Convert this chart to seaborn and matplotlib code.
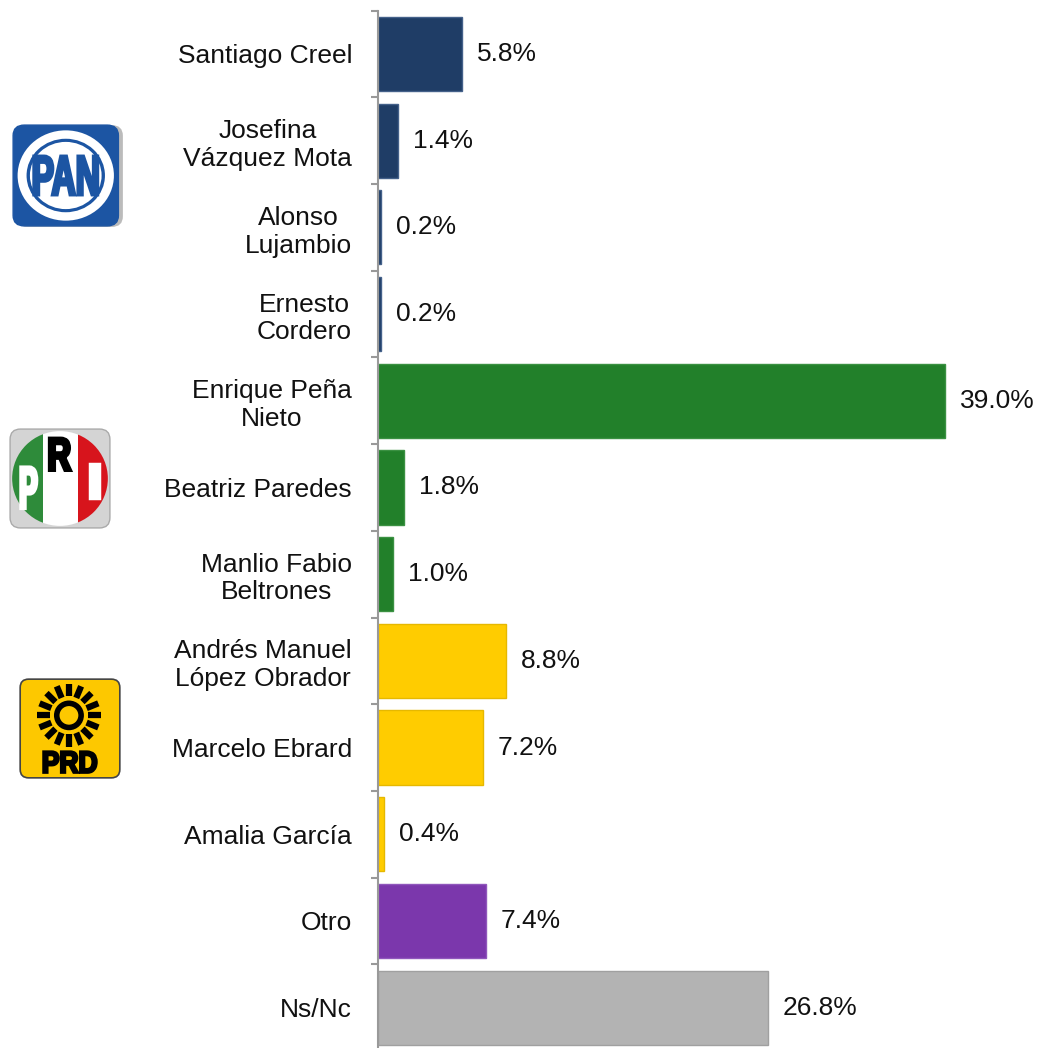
import numpy as np
import pandas as pd
import seaborn as sns
import matplotlib.pyplot as plt
from matplotlib.patches import FancyBboxPatch, Circle, Rectangle, PathPatch
from matplotlib.textpath import TextPath
from matplotlib.font_manager import FontProperties
from matplotlib.transforms import Affine2D

candidates = ["Santiago Creel", "Josefina\nVázquez Mota", "Alonso\nLujambio", "Ernesto\nCordero",
              "Enrique Peña\nNieto", "Beatriz Paredes", "Manlio Fabio\nBeltrones",
              "Andrés Manuel\nLópez Obrador", "Marcelo Ebrard", "Amalia García", "Otro", "Ns/Nc"]
values = [5.8, 1.4, 0.2, 0.2, 39.0, 1.8, 1.0, 8.8, 7.2, 0.4, 7.4, 26.8]
party = ["PAN", "PAN", "PAN", "PAN", "PRI", "PRI", "PRI", "PRD", "PRD", "PRD", "Otro", "Ns/Nc"]
party_colors = {"PAN": "#1F3D66", "PRI": "#22802A", "PRD": "#FFCC00", "Otro": "#7B37AC", "Ns/Nc": "#B3B3B3"}
edge_colors = {"PAN": "#44618A", "PRI": "#3B9142", "PRD": "#E6B800", "Otro": "#9057BC", "Ns/Nc": "#A0A0A0"}

df = pd.DataFrame({"candidato": candidates, "valor": values, "partido": party})

sns.set_theme(style="white")
plt.rcParams['font.family'] = ['Liberation Sans', 'DejaVu Sans']

W, H = 1038, 1048
step = 86.7
fig = plt.figure(figsize=(W / 100, H / 100), dpi=100)
ax = fig.add_axes([378 / W, 1 - (10.6 + 12 * step) / H, 1 - 378 / W, 12 * step / H])

sns.barplot(data=df, y="candidato", x="valor", hue="partido", palette=party_colors, saturation=1,
            orient="h", width=0.855, dodge=False, legend=False, ax=ax, linewidth=1)

for cont in ax.containers:
    for b in cont:
        i = int(round(b.get_y() + b.get_height() / 2))
        b.set_edgecolor(edge_colors[party[i]])
    ax.bar_label(cont, labels=[f"{v:.1f}%" if not np.isnan(v) else "" for v in cont.datavalues],
                 padding=10.8, fontsize=19, color="#111111")

ax.set_xlim(0, (W - 378) / 14.54)
ax.set_ylim(11.5, -0.5)
ax.set_xlabel("")
ax.set_ylabel("")
ax.set_xticks([])
ax.set_yticks(range(len(candidates)))
ax.set_yticklabels(candidates, fontsize=19, color="#111111", multialignment="center")
ax.set_yticks(np.arange(-0.5, 12, 1), minor=True)
ax.tick_params(axis="y", which="major", length=0, pad=18.7)
ax.tick_params(axis="y", which="minor", length=5, width=1.5, color="#999999", left=True, direction="out")
for s in ["top", "right", "bottom"]:
    ax.spines[s].set_visible(False)
ax.spines["left"].set_color("#999999")
ax.spines["left"].set_linewidth(1.5)


def logo_axes(x0, y0, x1, y1):
    a = fig.add_axes([x0 / W, 1 - y1 / H, (x1 - x0) / W, (y1 - y0) / H])
    a.set_xlim(0, 1)
    a.set_ylim(0, 1)
    a.axis("off")
    return a


def path_text(a, s, x, y, w, h, color, lw=1.8):
    tp = TextPath((0, 0), s, size=1, prop=FontProperties(family="Liberation Sans", weight="bold"))
    bb = tp.get_extents()
    tr = Affine2D().translate(-bb.x0, -bb.y0).scale(w / bb.width, h / bb.height).translate(x - w / 2, y - h / 2)
    a.add_patch(PathPatch(tr.transform_path(tp), fc=color, ec=color, lw=lw, joinstyle="miter"))


# PAN
blue = "#1C55A3"
a = logo_axes(12, 123, 124, 228)
a.add_patch(FancyBboxPatch((0.04, 0.01), 0.95, 0.97, boxstyle="round,pad=0,rounding_size=0.1",
                           fc="#BBBBBB", ec="none"))
a.add_patch(FancyBboxPatch((0.01, 0.02), 0.94, 0.96, boxstyle="round,pad=0,rounding_size=0.1",
                           fc=blue, ec=blue))
a.add_patch(Circle((0.48, 0.5), 0.43, fc="white", ec="none"))
a.add_patch(Circle((0.48, 0.5), 0.35, fc=blue, ec="none"))
a.add_patch(Circle((0.48, 0.5), 0.32, fc="white", ec="none"))
path_text(a, "PAN", 0.48, 0.5, 0.57, 0.37, blue, lw=2.2)

# PRI
a = logo_axes(8, 427, 112, 530)
a.add_patch(FancyBboxPatch((0.02, 0.02), 0.96, 0.96, boxstyle="round,pad=0,rounding_size=0.1",
                           fc="#D4D4D4", ec="#AAAAAA", lw=1))
clip = Circle((0.5, 0.5), 0.46, transform=a.transData)
for x0, w, c in [(0.0, 0.335, "#2E8B3A"), (0.335, 0.335, "white"), (0.67, 0.33, "#D7141C")]:
    r = Rectangle((x0, 0.0), w, 1.0, fc=c, ec="none")
    a.add_patch(r)
    r.set_clip_path(clip)
path_text(a, "P", 0.2, 0.41, 0.15, 0.40, "white", lw=2.5)
path_text(a, "R", 0.5, 0.735, 0.2, 0.31, "black", lw=2.5)
path_text(a, "I", 0.83, 0.475, 0.09, 0.33, "white", lw=2.5)

# PRD
a = logo_axes(17, 676, 123, 781)
a.add_patch(FancyBboxPatch((0.03, 0.03), 0.94, 0.94, boxstyle="round,pad=0,rounding_size=0.08",
                           fc="#FDC800", ec="#444444", lw=1.2))
cx, cy = 0.49, 0.625
a.add_patch(Circle((cx, cy), 0.115, fc="none", ec="black", lw=4))
for ang in np.arange(0, 360, 22.5):
    t = np.deg2rad(ang)
    a.plot([cx + 0.18 * np.cos(t), cx + 0.3 * np.cos(t)], [cy + 0.18 * np.sin(t), cy + 0.3 * np.sin(t)],
           color="black", lw=4.5, solid_capstyle="butt")
a.add_patch(Rectangle((0.1, 0.06), 0.8, 0.25, fc="#FDC800", ec="none"))
path_text(a, "PRD", 0.5, 0.18, 0.5, 0.2, "black", lw=1.8)

fig.savefig("out.png", dpi=100)
